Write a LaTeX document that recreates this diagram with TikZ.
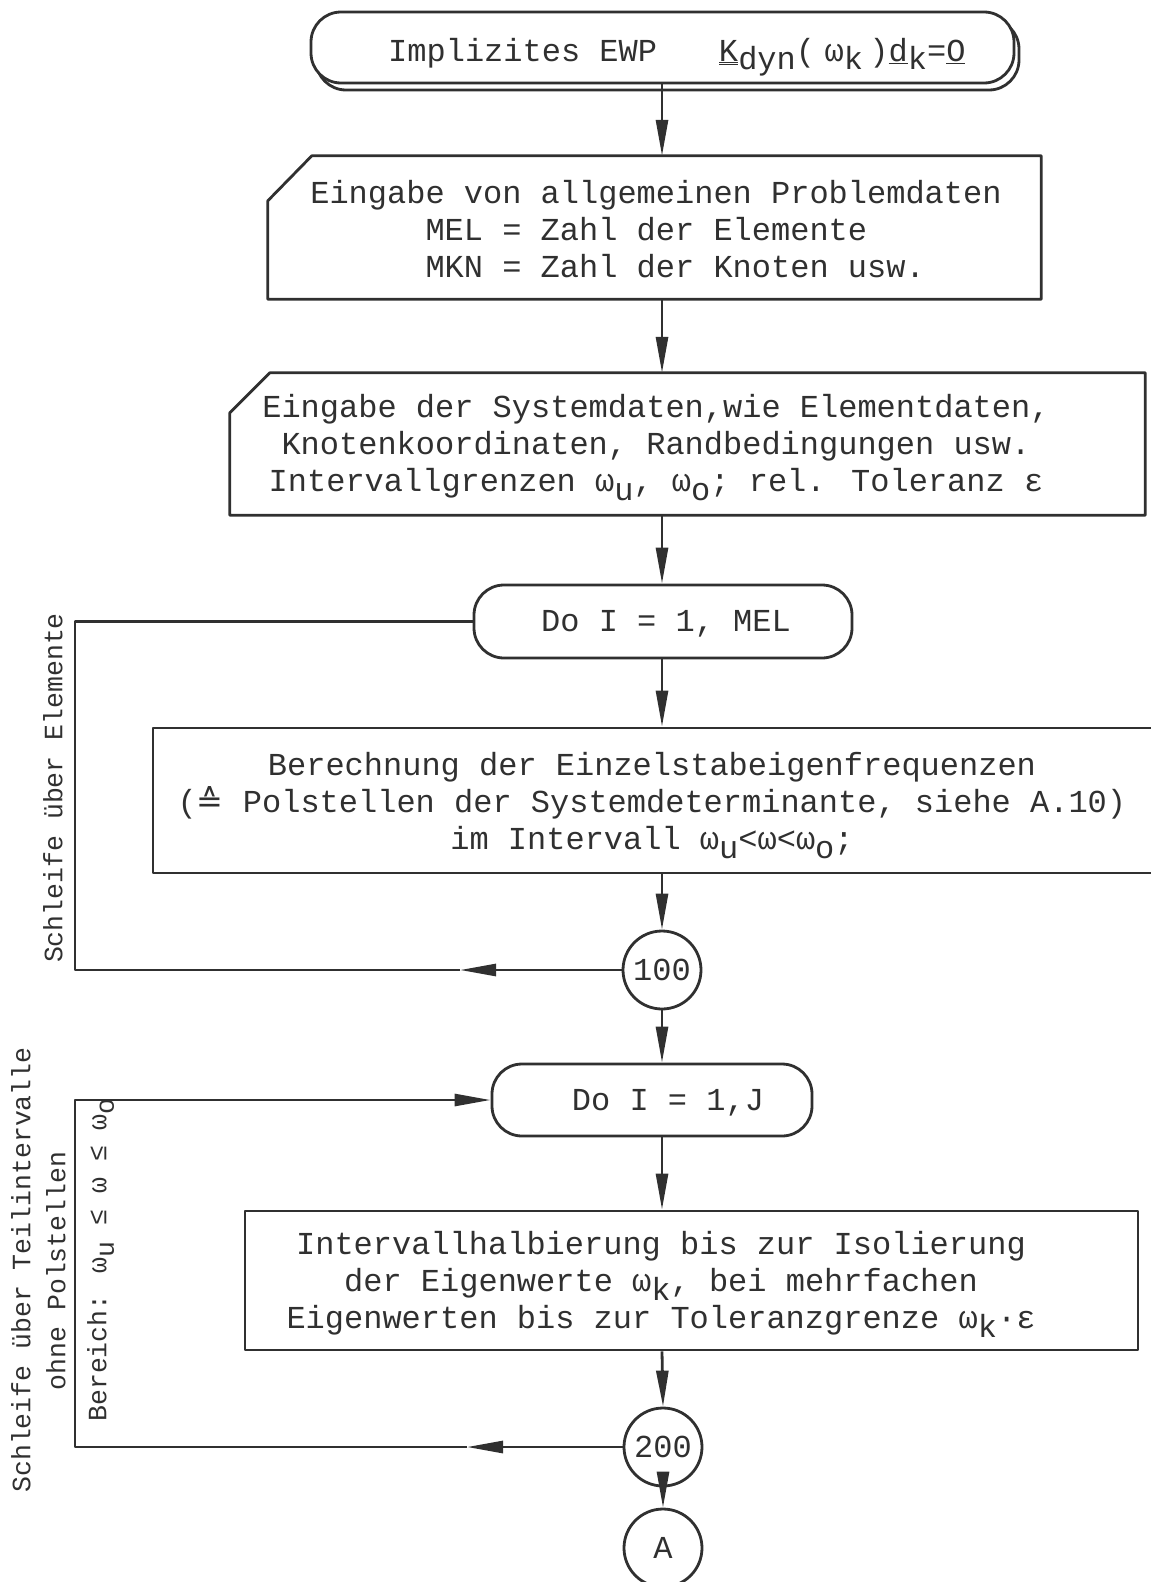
\documentclass[tikz,border=0pt]{standalone}
\usepackage{fontspec}
\setmainfont{Liberation Mono}
\newfontfamily\symfont{DejaVu Sans}
\usetikzlibrary{arrows.meta,shadows,calc}
\definecolor{ink}{HTML}{303030}
\newcommand{\lo}[1]{\raisebox{-0.28em}[\height][0pt]{#1}}
\begin{document}
\begin{tikzpicture}[x=1pt,y=-1pt,line join=round,
  every node/.style={text=ink,inner sep=0pt,font=\fontsize{32}{37}\selectfont},
  ln/.style={draw=ink,line width=2.8pt},
  arr/.style={ln,-{Triangle[length=36pt,width=12pt]}},
  term/.style={ln,rounded corners=30pt,fill=white},
  side/.style={rotate=90,font=\fontsize{26.5}{31}\selectfont}]
\useasboundingbox (0,0) rectangle (1151,1582);
\coordinate (ax) at (662,0);
% top terminal
\node[term,copy shadow={shadow xshift=5pt,shadow yshift=-7pt},minimum width=703pt,minimum height=71pt] (t0) at (662.5,47.5) {};
\node[anchor=base west] (t0t) at (388,61) {Implizites EWP\hspace*{62pt}\underline{\underline{K}}\lo{dyn}(\hspace{0.3em}ω\lo{k}\hspace{0.2em})\underline{d}\lo{k}=\underline{O}};
% input box 1
\node[minimum width=773pt,minimum height=143pt] (b2) at (654.5,227.5) {};
\draw[ln] ($(b2.north west)+(44,0)$) -- (b2.north east) -- (b2.south east) -- (b2.south west) -- ($(b2.north west)+(0,45)$) -- cycle;
\node[align=left] (b2t) at (656,229) {Eingabe von allgemeinen Problemdaten\\\hspace*{115.2pt}MEL = Zahl der Elemente\\\hspace*{115.2pt}MKN = Zahl der Knoten usw.};
% input box 2
\node[minimum width=915pt,minimum height=142pt] (b3) at (687.5,444) {};
\draw[ln] ($(b3.north west)+(40,0)$) -- (b3.north east) -- (b3.south east) -- (b3.south west) -- ($(b3.north west)+(0,40)$) -- cycle;
\node[align=center] (b3t) at (656,446) {Eingabe der Systemdaten,wie Elementdaten,\\Knotenkoordinaten, Randbedingungen usw.\\Intervallgrenzen ω\lo{u}, ω\lo{o}; rel. Toleranz ε};
% Do MEL
\node[term,minimum width=378pt,minimum height=73pt] (domel) at (663,621.5) {};
\node (domelt) at (666,624) {Do I = 1, MEL};
% Berechnung
\node[ln,minimum width=1002pt,minimum height=145pt] (b4) at (654,800.5) {};
\node[align=center] (b4t) at (652,804) {Berechnung der Einzelstabeigenfrequenzen\\({\symfont ≙} Polstellen der Systemdeterminante, siehe A.10)\\im Intervall ω\lo{u}<ω<ω\lo{o};};
% 100
\node[ln,circle,minimum size=78pt] (c100) at (662,970) {100};
% Do J
\node[term,minimum width=320pt,minimum height=72pt] (doj) at (652,1100) {};
\node (dojt) at (668,1103) {Do I = 1,J};
% Intervallhalbierung
\node[ln,minimum width=893pt,minimum height=139pt] (b5) at (691.5,1280.5) {};
\node[align=center] (b5t) at (661,1283) {Intervallhalbierung bis zur Isolierung\\der Eigenwerte ω\lo{k}, bei mehrfachen\\Eigenwerten bis zur Toleranzgrenze ω\lo{k}·ε};
% 200 and A
\node[ln,circle,minimum size=78pt] (c200) at (663,1447) {200};
\node[ln,circle,minimum size=78pt] (cA) at (663,1548) {A};
% side labels
\node[side] (s1) at (53,788) {Schleife über Elemente};
\node[side] (s2a) at (21,1270) {Schleife über Teilintervalle};
\node[side] (s2b) at (56,1271) {ohne Polstellen};
\node[side] (s2c) at (97,1260) {Bereich: ω\lo{u} ≤ ω ≤ ω\lo{o}};
% main flow
\draw[arr] (t0.south -| ax) -- (b2.north -| ax);
\draw[arr] (b2.south -| ax) -- (b3.north -| ax);
\draw[arr] (b3.south -| ax) -- (domel.north -| ax);
\draw[arr] (domel.south -| ax) -- (b4.north -| ax);
\draw[arr] (b4.south -| ax) -- (c100.north);
\draw[arr] (c100.south) -- (doj.north -| ax);
\draw[arr] (doj.south -| ax) -- (b5.north -| ax);
\draw[arr] (b5.south -| ax) -- (c200.north);
\draw[arr] (c200.south) -- (cA.north);
% loops
\coordinate (m1) at (460,970);
\coordinate (k1) at (75,970);
\draw[arr] (c100.west) -- (m1);
\draw[ln] (m1) -- (k1) |- (domel.west);
\coordinate (m2) at (467,1447);
\coordinate (k3) at (75,1447);
\draw[arr] (c200.west) -- (m2);
\draw[arr] (m2) -- (k3) |- (doj.west);
\end{tikzpicture}
\end{document}
